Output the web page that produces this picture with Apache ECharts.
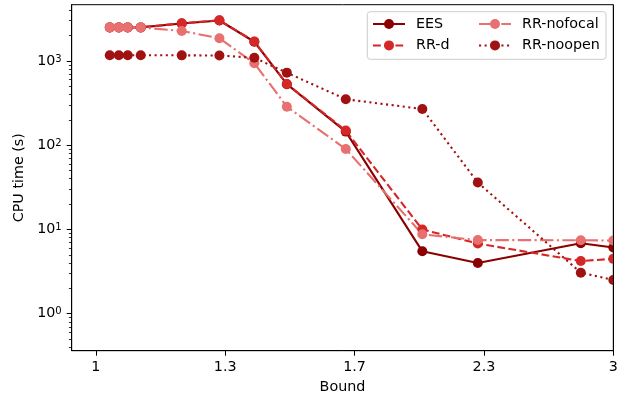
<!DOCTYPE html>
<html><head><meta charset="utf-8">
<script src="https://cdn.jsdelivr.net/npm/echarts@6/dist/echarts.min.js"></script>
<style>html,body{margin:0;padding:0;background:#fff}#c{width:630px;height:398px}</style>
</head><body><div id="c"></div>
<script>
const bounds = [1.03, 1.05, 1.07, 1.1, 1.2, 1.3, 1.4, 1.5, 1.7, 2.0, 2.25, 2.8, 3.0];
const ees = [2500, 2500, 2500, 2500, 2780, 3020, 1690, 530, 145, 5.5, 4.0, 6.85, 6.1];
const rrD = [2500, 2500, 2500, 2500, 2800, 3040, 1700, 533, 149, 10.0, 6.8, 4.22, 4.48];
const rrNofocal = [2500, 2500, 2500, 2500, 2270, 1860, 940, 286, 90, 8.77, 7.48, 7.45, 7.38];
const rrNoopen = [1170, 1170, 1170, 1170, 1165, 1160, 1090, 726, 351, 269, 36, 3.07, 2.51];
const seriesNames = ['EES', 'RR-d', 'RR-nofocal', 'RR-noopen'];
const xTickValues = [1, 1.3161, 1.7321, 2.2795, 3];
const xTickLabels = ['1', '1.3', '1.7', '2.3', '3'];
const yMajorValues = [1, 10, 100, 1000];
const yMajorExps = ['0', '1', '2', '3'];
const yMinorValues = [0.4, 0.5, 0.6, 0.7, 0.8, 0.9, 2, 3, 4, 5, 6, 7, 8, 9,
  20, 30, 40, 50, 60, 70, 80, 90, 200, 300, 400, 500, 600, 700, 800, 900, 2000, 3000, 4000];

const FONT = 'DejaVu Sans';
const FS = 14.3;
const chart = echarts.init(document.getElementById('c'), null, {renderer: 'canvas'});

function mk(name, vals, color, dash) {
  return {
    name: name, type: 'line', data: bounds.map((b, i) => [b, vals[i]]),
    symbol: 'circle', symbolSize: 10, itemStyle: {color: color},
    lineStyle: {color: color, width: 2.1, type: dash, cap: 'butt'},
    emphasis: {disabled: true}, clip: true, z: 2
  };
}
function xFmt(v) {
  let best = 0;
  for (let i = 1; i < xTickValues.length; i++) {
    if (Math.abs(xTickValues[i] - v) < Math.abs(xTickValues[best] - v)) best = i;
  }
  return xTickLabels[best];
}
function yFmt(v) {
  let best = 0;
  for (let i = 1; i < yMajorValues.length; i++) {
    if (Math.abs(Math.log10(yMajorValues[i]) - Math.log10(v)) < Math.abs(Math.log10(yMajorValues[best]) - Math.log10(v))) best = i;
  }
  return '{a|10}{b|' + yMajorExps[best] + '}';
}
const legendCommon = {
  orient: 'vertical', top: 17, itemWidth: 32, itemHeight: 12.5, itemGap: 7.4, padding: 0,
  selectedMode: false, z: 5,
  textStyle: {fontSize: FS, fontFamily: FONT, color: '#000', padding: [0, 0, 0, 6]}
};
chart.setOption({
  animation: false,
  grid: {left: 71.7, right: 16.7, top: 4.7, bottom: 47.3, containLabel: false, outerBoundsMode: 'none',
    show: true, borderColor: '#000', borderWidth: 1, backgroundColor: 'rgba(0,0,0,0)'},
  xAxis: {
    type: 'log', min: 0.95, max: 3,
    axisLine: {show: true, lineStyle: {color: '#000', width: 1}},
    axisTick: {show: true, customValues: xTickValues, length: 5, lineStyle: {color: '#000', width: 1}},
    axisLabel: {customValues: xTickValues, formatter: xFmt, margin: 10, fontSize: FS, fontFamily: FONT, color: '#000'},
    splitLine: {show: false}, minorTick: {show: false},
    name: 'Bound', nameLocation: 'middle', nameGap: 30,
    nameTextStyle: {fontSize: FS, fontFamily: FONT, color: '#000'}
  },
  yAxis: [{
    type: 'log', min: 0.364, max: 4650, position: 'left',
    axisLine: {show: true, lineStyle: {color: '#000', width: 1}},
    axisTick: {show: true, customValues: yMajorValues, length: 5, lineStyle: {color: '#000', width: 1}},
    axisLabel: {customValues: yMajorValues, formatter: yFmt, margin: 10, color: '#000',
      rich: {a: {fontSize: FS, fontFamily: FONT, color: '#000'},
             b: {fontSize: 10, fontFamily: FONT, color: '#000', verticalAlign: 'top'}}},
    splitLine: {show: false}, minorTick: {show: false},
    name: 'CPU time (s)', nameLocation: 'middle', nameGap: 39, nameRotate: 90,
    nameTextStyle: {fontSize: FS, fontFamily: FONT, color: '#000'}
  }, {
    type: 'log', min: 0.364, max: 4650, position: 'left',
    axisLine: {show: false},
    axisTick: {show: true, customValues: yMinorValues, length: 2.8, lineStyle: {color: '#000', width: 0.8}},
    axisLabel: {show: false}, splitLine: {show: false}
  }],
  legend: [
    Object.assign({}, legendCommon, {data: [seriesNames[0], seriesNames[1]], left: 372}),
    Object.assign({}, legendCommon, {data: [seriesNames[2], seriesNames[3]], left: 478})
  ],
  graphic: [
    {type: 'rect', z: 3, shape: {x: 614, y: 0, width: 16, height: 351}, style: {fill: '#fff'}},
    {type: 'line', z: 4, shape: {x1: 613.5, y1: 4.7, x2: 613.5, y2: 351}, style: {stroke: '#000', lineWidth: 1}},
    {type: 'rect', z: 4, shape: {x: 367.3, y: 11.7, width: 238.7, height: 47.6, r: 3}, style: {fill: 'rgba(255,255,255,0.8)', stroke: '#cccccc', lineWidth: 1}}
  ],
  series: [
    mk(seriesNames[0], ees, '#8b0000', 'solid'),
    mk(seriesNames[1], rrD, '#d62728', [7.8, 3.4]),
    mk(seriesNames[2], rrNofocal, '#e87070', [13.4, 3.4, 2.1, 3.4]),
    mk(seriesNames[3], rrNoopen, '#a01212', [2.1, 3.5])
  ]
});
</script></body></html>
